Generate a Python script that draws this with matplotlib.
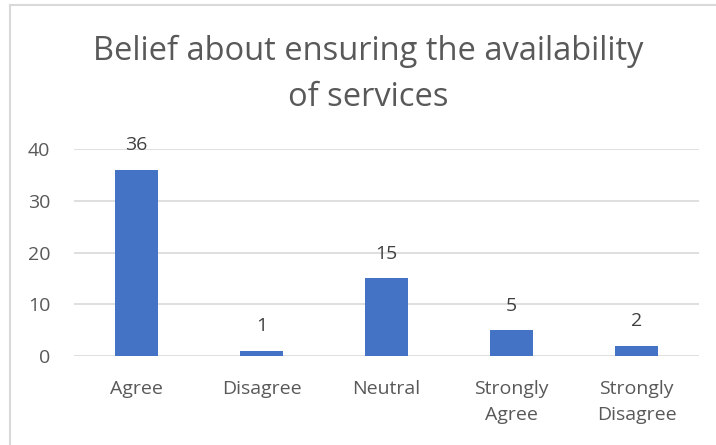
import matplotlib
matplotlib.use("Agg")
import matplotlib.pyplot as plt
from matplotlib.lines import Line2D

categories = ["Agree", "Disagree", "Neutral", "Strongly\nAgree", "Strongly\nDisagree"]
values = [36, 1, 15, 5, 2]
yticks = [0, 10, 20, 30, 40]
title = "Belief about ensuring the availability\nof services"

plt.rcParams['font.family'] = ['Open Sans', 'DejaVu Sans']
text_color = "#595959"
bar_color = "#4472C4"

fig = plt.figure(figsize=(7.16, 4.45), dpi=100)
ax = fig.add_axes([74/716, 1-356/445, (699-74)/716, (356-149)/445])

x = range(len(categories))
bars = ax.bar(x, values, width=0.35, color=bar_color, zorder=3)
for xi, v in zip(x, values):
    ax.text(xi, v + 3.0, str(v), ha="center", va="bottom", fontsize=14, color="#404040")

ax.set_ylim(0, 40)
ax.set_xlim(-0.5, len(categories) - 0.5)
ax.set_yticks(yticks)
ax.set_xticks(list(x))
ax.set_xticklabels(categories, fontsize=14, color=text_color, linespacing=1.6)
ax.tick_params(axis='y', labelsize=14, labelcolor=text_color, length=0, pad=17)
ax.tick_params(axis='x', length=0, pad=17)
ax.grid(axis='y', color="#D9D9D9", linewidth=1.2, zorder=0)
for s in ax.spines.values():
    s.set_visible(False)

fig.text(368/716, 1-74/445, title, ha="center", va="center", fontsize=23.5,
         color=text_color, linespacing=1.52)

fig.add_artist(Line2D([9.5/716, 9.5/716], [0, 1-4.5/445], transform=fig.transFigure,
                      color="#D9D9D9", linewidth=1.5))
fig.add_artist(Line2D([9.5/716, 1], [1-4.5/445, 1-4.5/445], transform=fig.transFigure,
                      color="#D9D9D9", linewidth=1.5))

fig.savefig("out.png", dpi=100)
